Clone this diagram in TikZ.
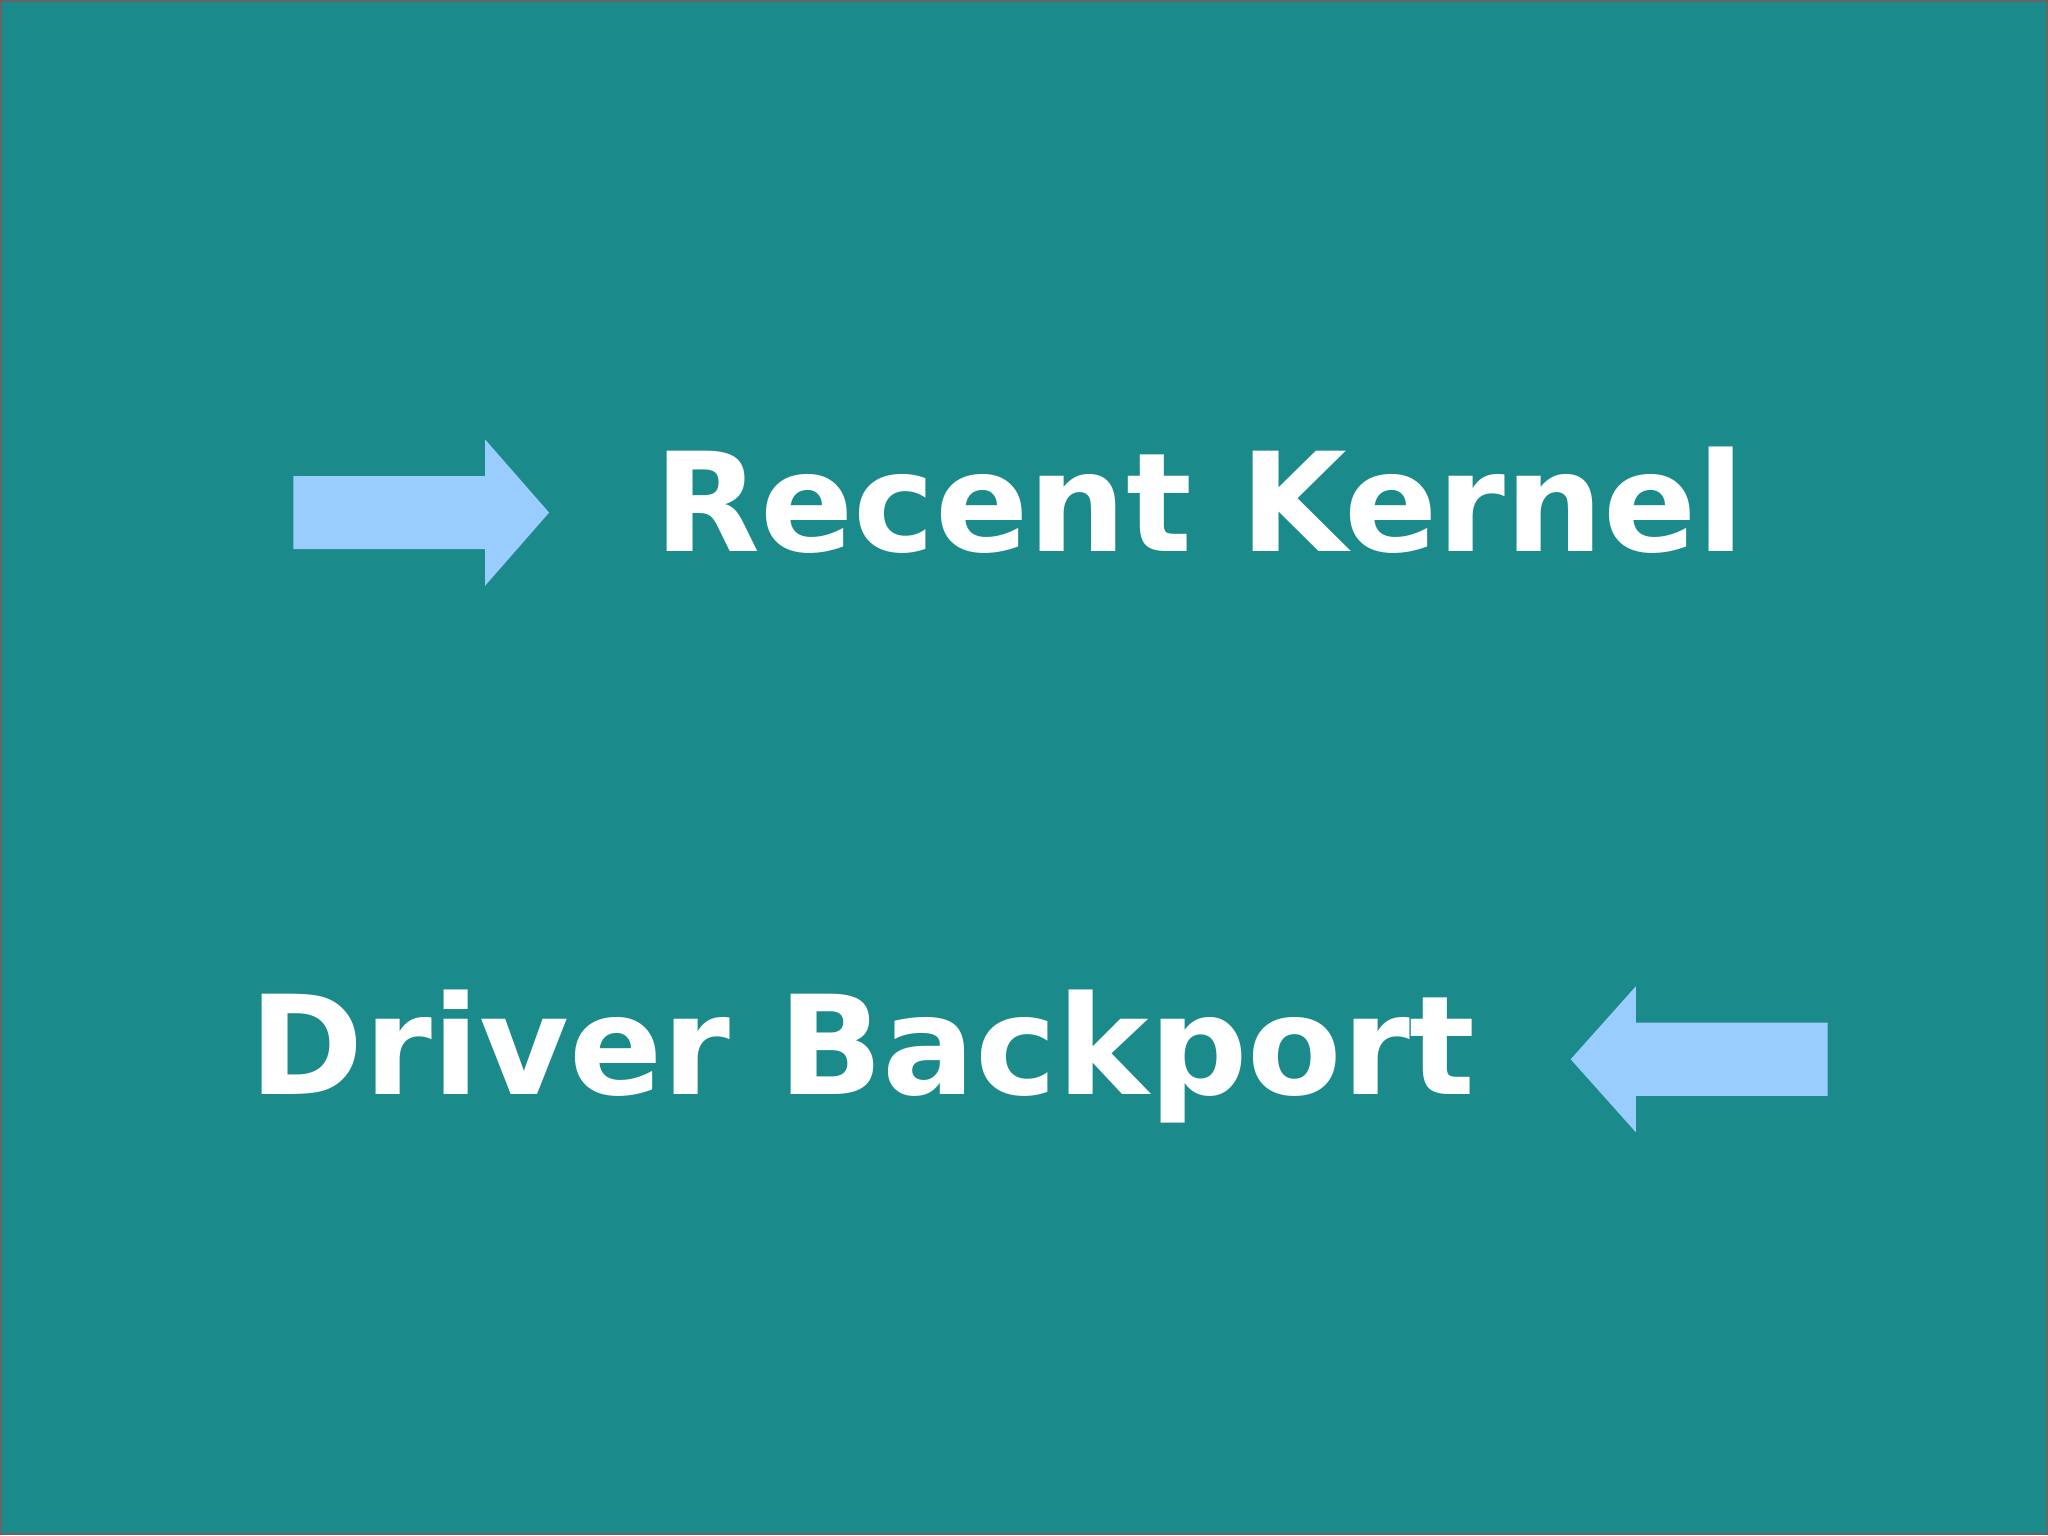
\documentclass[tikz,border=0pt]{standalone}
\usepackage{fontspec}
\setmainfont{DejaVu Sans}
\definecolor{bg}{HTML}{1B8A8A}
\definecolor{arr}{HTML}{99CCFF}
\begin{document}
\begin{tikzpicture}[x=0.01cm,y=-0.01cm,
  lbl/.style={anchor=base west,inner sep=0pt,text=white,font=\fontsize{30}{36}\selectfont\bfseries},
  arrowshape/.style={fill=arr,draw=none}]
\fill[bg] (0,0) rectangle (1568,1175);
\draw[black!60,line width=0.5pt] (0,0) rectangle (1568,1175);
\useasboundingbox (0,0) rectangle (1568,1175);
\fill[arrowshape] (224,364) -- (371,364) -- (371,336) -- (420,392) -- (371,448) -- (371,420) -- (224,420) -- cycle;
\fill[arrowshape] (1400,783) -- (1253,783) -- (1253,755) -- (1203,811) -- (1253,867) -- (1253,839) -- (1400,839) -- cycle;
\node[lbl] (rk) at (500,422) {Recent Kernel};
\node[lbl] (db) at (190,838) {Driver Backport};
\end{tikzpicture}
\end{document}
